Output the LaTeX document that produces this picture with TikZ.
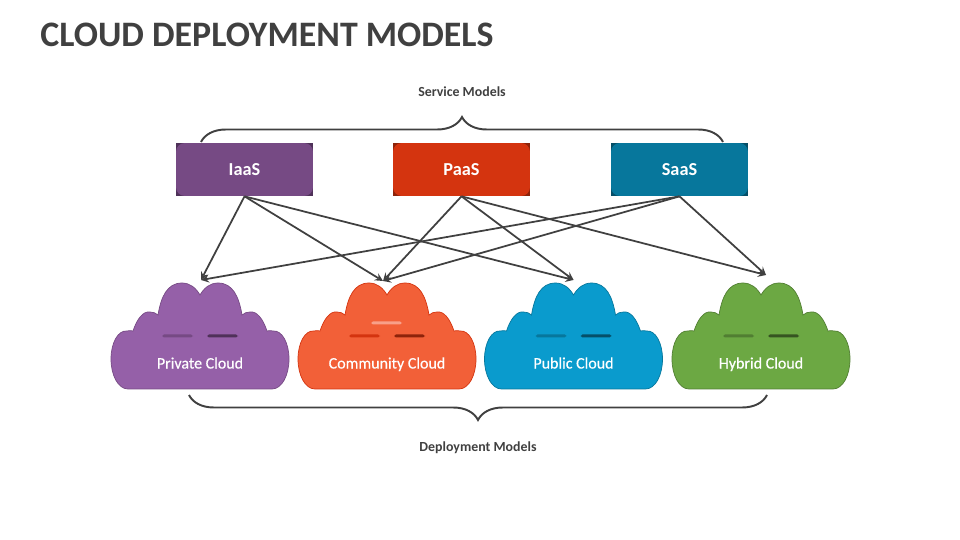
\documentclass[tikz,border=0pt]{standalone}
\usepackage{fontspec}
\setmainfont{Carlito}
\newfontfamily\labelfont[FakeBold=0.4]{Carlito}
\usetikzlibrary{decorations.pathreplacing}
\definecolor{inkgray}{HTML}{404040}
\definecolor{iaasfill}{HTML}{764A84}
\definecolor{iaasedge}{HTML}{4F3159}
\definecolor{paasfill}{HTML}{D4340F}
\definecolor{paasedge}{HTML}{8E230A}
\definecolor{saasfill}{HTML}{07779C}
\definecolor{saasedge}{HTML}{054F68}
\definecolor{privfill}{HTML}{9560A8}
\definecolor{privedge}{HTML}{764A84}
\definecolor{privdark}{HTML}{4F3159}
\definecolor{commfill}{HTML}{F26038}
\definecolor{commlight}{HTML}{F8A08A}
\definecolor{pubfill}{HTML}{0A9BCD}
\definecolor{hybfill}{HTML}{6CA843}
\definecolor{hybmid}{HTML}{517E32}
\definecolor{hybdark}{HTML}{365421}
\tikzset{
  modelbox/.style n args={2}{minimum width=2.74cm,minimum height=1.06cm,inner sep=0pt,fill=#2,text=white,font=\fontsize{10.4}{12}\selectfont\bfseries,
    path picture={\fill[#1,rounded corners=5pt] (path picture bounding box.south west) rectangle (path picture bounding box.north east);}},
  link/.style={->,>=stealth,inkgray,line width=1pt},
  bracket/.style={inkgray,line width=1.1pt,decorate,decoration={brace,amplitude=0.5cm}},
  heading/.style={inkgray,font=\fontsize{7.9}{9}\selectfont\bfseries},
  barline/.style={line width=1.5pt,line cap=round},
  pics/cloud/.style n args={5}{code={
    \path[fill=#2,draw=#3,line width=0.4pt] (-72,0) .. controls (-82,0) and (-89,-14) .. (-89,-30)
      .. controls (-89,-46) and (-82,-59) .. (-73,-58) .. controls (-71,-58.5) and (-69,-58.5) .. (-67,-58)
      .. controls (-63,-70) and (-57,-78) .. (-50,-77) .. controls (-47,-77) and (-44,-76) .. (-42,-74)
      .. controls (-39,-92) and (-33,-106) .. (-18,-106) .. controls (-10,-106) and (-4,-101) .. (0,-94)
      .. controls (4,-101) and (10,-106) .. (18,-106) .. controls (33,-106) and (39,-92) .. (42,-74)
      .. controls (44,-76) and (47,-77) .. (50,-77) .. controls (57,-78) and (63,-70) .. (67,-58)
      .. controls (69,-58.5) and (71,-58.5) .. (73,-58) .. controls (82,-59) and (89,-46) .. (89,-30)
      .. controls (89,-14) and (82,0) .. (72,0) -- cycle;
    \fill[#3,rounded corners=1pt] (-38,-54.5) rectangle (-7,-51.5);
    \fill[#4,rounded corners=1pt] (7,-54.5) rectangle (38,-51.5);
    \node[text=white,anchor=base,font=\fontsize{9.1}{11}\labelfont] (-label) at (0,-20.5) {#1};
    \coordinate (-top) at #5;
  }}
}
\begin{document}
\begin{tikzpicture}[x=0.02cm,y=-0.02cm]
  \useasboundingbox (0,0) rectangle (960,540);

  \node[inkgray,anchor=west,inner sep=0pt,font=\fontsize{20.4}{25}\selectfont\bfseries] (title) at (40,34.5) {CLOUD DEPLOYMENT MODELS};

  \node[heading] (service) at (462,92) {Service Models};
  \node[heading] (deployment) at (478,448) {Deployment Models};

  % service models
  \node[modelbox={iaasfill}{iaasedge}] (iaas) at (244.5,169.5) {IaaS};
  \node[modelbox={paasfill}{paasedge}] (paas) at (461.5,169.5) {PaaS};
  \node[modelbox={saasfill}{saasedge}] (saas) at (679.5,169.5) {SaaS};

  % deployment models
  \pic (private) at (200,389) {cloud={Private Cloud}{privfill}{privedge}{privdark}{(1,-109)}};
  \pic (community) at (387,389) {cloud={Community Cloud}{commfill}{paasfill}{paasedge}{(-4,-108)}};
  \fill[commlight,rounded corners=1pt] (371,321.5) rectangle (402,324.5);
  \pic (public) at (573.5,389) {cloud={Public Cloud}{pubfill}{saasfill}{saasedge}{(0,-109)}};
  \pic (hybrid) at (761,389) {cloud={Hybrid Cloud}{hybfill}{hybmid}{hybdark}{(5,-114)}};

  \draw[link] (iaas.south) -- (private-top);
  \draw[link] (iaas.south) -- (community-top);
  \draw[link] (iaas.south) -- (public-top);
  \draw[link] (paas.south) -- (community-top);
  \draw[link] (paas.south) -- (public-top);
  \draw[link] (paas.south) -- (hybrid-top);
  \draw[link] (saas.south) -- (private-top);
  \draw[link] (saas.south) -- (community-top);
  \draw[link] (saas.south) -- (hybrid-top);

  \coordinate (sleft) at (201,142);
  \coordinate (sright) at (723,142);
  \coordinate (dleft) at (189,395);
  \coordinate (dright) at (767,395);
  \draw[bracket] (sleft) -- (sright);
  \draw[bracket] (dright) -- (dleft);
\end{tikzpicture}
\end{document}
